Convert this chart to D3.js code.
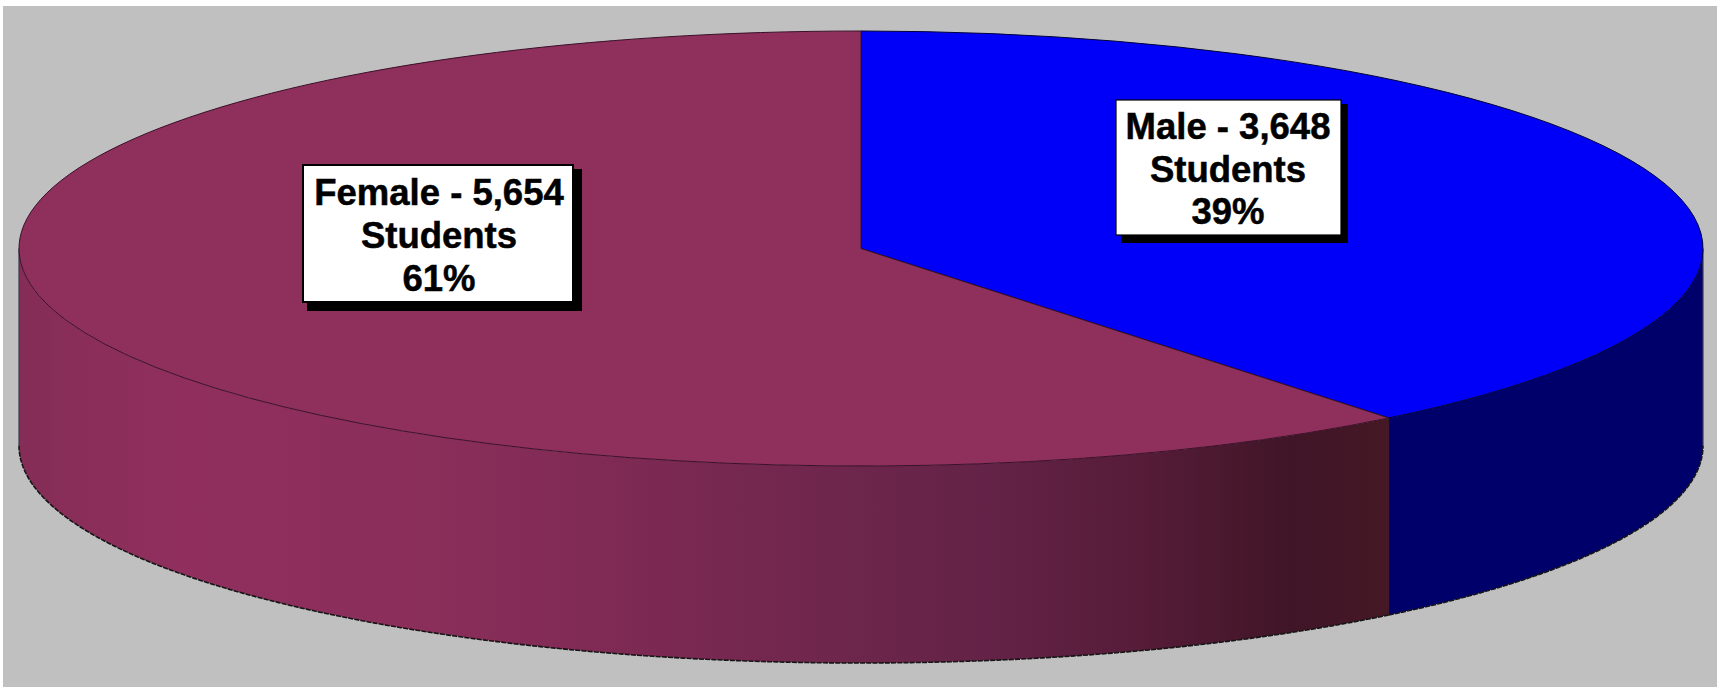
<!DOCTYPE html>
<html>
<head>
<meta charset="utf-8">
<script src="https://cdn.jsdelivr.net/npm/d3@7"></script>
<style>
html,body{margin:0;padding:0;background:#fff;overflow:hidden}
svg{display:block}
text{font-family:"Liberation Sans",Arial,sans-serif;font-weight:700;font-size:36.5px;fill:#000;stroke:#000;stroke-width:0.5px;text-anchor:middle}
</style>
</head>
<body>
<svg id="c" width="1717" height="687"></svg>
<script>
const categories = ["Male", "Female"];
const students = [3648, 5654];
const percents = ["39%", "61%"];
const topColors = ["#0000f8", "#8f305c"];
const unitLabel = "Students";

(function(){
const W = 1717, H = 687;
const cx = 861, cy = 248.5, rx = 842, ry = 217.5, depth = 197;
const svg = d3.select("#c");

svg.append("rect").attr("x",3).attr("y",6).attr("width",W-3).attr("height",H-6).attr("fill","#c0c0c0");

const defs = svg.append("defs");
// shading of the plum wall, in user space along x
const grad = defs.append("linearGradient").attr("id","plumSide")
  .attr("gradientUnits","userSpaceOnUse").attr("x1",19).attr("x2",1388).attr("y1",0).attr("y2",0);
[[0,"#842d56"],[0.05,"#8a2e59"],[0.12,"#902f5e"],[0.3,"#8a2e5a"],[0.48,"#7a2952"],[0.6,"#6e264c"],[0.72,"#622246"],[0.82,"#561c38"],[0.93,"#401527"],[1,"#451825"]]
  .forEach(([o,c]) => grad.append("stop").attr("offset",o).attr("stop-color",c));

const pie = d3.pie().sort(null).value(d => d);
const arcs = pie(students);
const arcGen = d3.arc().innerRadius(0).outerRadius(rx);

const px = a => cx + rx*Math.sin(a);
const py = a => cy - ry*Math.cos(a);
const line = d3.line();

// side walls
const sideFill = ["#00006b","url(#plumSide)"];
const g = svg.append("g");
arcs.forEach((d,i) => {
  const a0 = Math.max(d.startAngle, Math.PI/2), a1 = Math.min(d.endAngle, 3*Math.PI/2);
  const as = d3.range(0,241).map(k => a0 + (a1-a0)*k/240);
  const up = as.map(a => [px(a), py(a)]);
  const low = as.map(a => [px(a), py(a)+depth]).reverse();
  g.append("path").attr("d", line(up.concat(low))+"Z").attr("fill",sideFill[i]);
  // outer lower edge
  g.append("path").attr("d", line(low)).attr("fill","none")
    .attr("stroke","#151515").attr("stroke-width",1.6).attr("stroke-dasharray","5 1.2");
});
// vertical wall edges
const seam = arcs[0].endAngle;
[Math.PI/2, 3*Math.PI/2].forEach(a => {
  g.append("line").attr("x1",px(a)).attr("x2",px(a)).attr("y1",py(a)).attr("y2",py(a)+depth)
   .attr("stroke","#3a3a55").attr("stroke-width",1.2);
});
g.append("line").attr("x1",px(seam)).attr("x2",px(seam)).attr("y1",py(seam)).attr("y2",py(seam)+depth)
   .attr("stroke","#3a1020").attr("stroke-width",1);

// top face
const face = svg.append("g").attr("transform",`translate(${cx},${cy}) scale(1,${ry/rx})`);
face.selectAll("path").data(arcs).join("path")
  .attr("d", arcGen)
  .attr("fill",(d,i)=>topColors[i])
  .attr("stroke",(d,i)=>i===0?"#00003a":"#3a1028")
  .attr("stroke-width",1)
  .attr("vector-effect","non-scaling-stroke");

// labels
const fmt = d3.format(",");
const boxes = [
  {x:1116,y:100,w:225,h:135,sx:1121,sy:104,sw:227,sh:139,tx:1228,by:[139,182,224],bw:1.2},
  {x:303,y:165,w:270,h:137,sx:307,sy:169,sw:275,sh:142,tx:439,by:[205,248,291],bw:2}
];
boxes.forEach((b,i) => {
  const l = svg.append("g");
  l.append("rect").attr("x",b.sx).attr("y",b.sy).attr("width",b.sw).attr("height",b.sh).attr("fill","#000");
  l.append("rect").attr("x",b.x).attr("y",b.y).attr("width",b.w).attr("height",b.h)
    .attr("fill","#fff").attr("stroke","#000").attr("stroke-width",b.bw);
  [`${categories[i]} - ${fmt(students[i])}`, unitLabel, percents[i]].forEach((t,k) => {
    l.append("text").attr("x",b.tx).attr("y",b.by[k]).text(t);
  });
});
})();
</script>
</body>
</html>
